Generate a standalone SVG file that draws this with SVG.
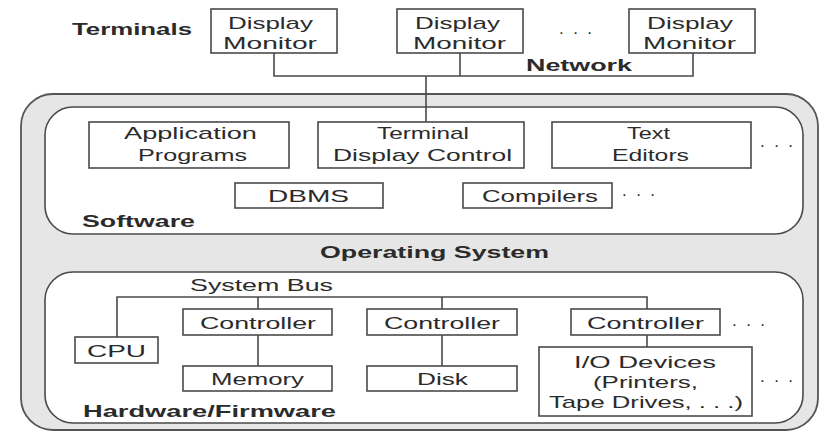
<svg xmlns="http://www.w3.org/2000/svg" width="820" height="432" viewBox="0 0 820 432">
<style>
text{font-family:"Liberation Sans",Arial,sans-serif;fill:#2b2b2b;}
.r{font-size:17px;}
.b{font-size:16.5px;font-weight:bold;}
.box{fill:#fff;stroke:#4a4a4a;stroke-width:1.6;}
.pan{fill:#fff;stroke:#4a4a4a;stroke-width:1.6;}
.os{fill:#e6e6e6;stroke:#555;stroke-width:1.8;}
.ln{fill:none;stroke:#4a4a4a;stroke-width:1.6;}
</style>
<rect width="820" height="432" fill="#fff"/>
<g id="os">
<rect class="os" x="21" y="94" width="797" height="336" rx="32"/>
<text class="b" x="320" y="258" textLength="229" lengthAdjust="spacingAndGlyphs">Operating System</text>
</g>
<g id="software">
<rect class="pan" x="45" y="107" width="758" height="127" rx="28"/>
<text class="b" x="82" y="227" textLength="113" lengthAdjust="spacingAndGlyphs">Software</text>
</g>
<g id="hardware">
<rect class="pan" x="45" y="272" width="758" height="151" rx="28"/>
<text class="b" x="83" y="417" textLength="253" lengthAdjust="spacingAndGlyphs">Hardware/Firmware</text>
</g>
<g id="connectors">
<path class="ln" d="M274,53V76H693V53M460,53V76M426,76V122"/>
<path class="ln" d="M117,337V297H647V309M258,297V309M258,335V366M442,297V309M442,335V366M647,335V347"/>
</g>
<g id="terminals-label"><text class="b" x="72" y="35" textLength="120" lengthAdjust="spacingAndGlyphs">Terminals</text></g>
<g id="network-label"><text class="b" x="526" y="71" textLength="106" lengthAdjust="spacingAndGlyphs">Network</text></g>
<g id="monitor1">
<rect class="box" x="211" y="9" width="126" height="44"/>
<text class="r" x="228" y="28.5" textLength="85" lengthAdjust="spacingAndGlyphs">Display</text>
<text class="r" x="223" y="48.5" textLength="94" lengthAdjust="spacingAndGlyphs">Monitor</text>
</g>
<g id="monitor2">
<rect class="box" x="397" y="9" width="126" height="44"/>
<text class="r" x="415" y="28.5" textLength="85" lengthAdjust="spacingAndGlyphs">Display</text>
<text class="r" x="413" y="48.5" textLength="93" lengthAdjust="spacingAndGlyphs">Monitor</text>
</g>
<g id="monitor3">
<rect class="box" x="629" y="9" width="126" height="44"/>
<text class="r" x="647" y="28.5" textLength="86" lengthAdjust="spacingAndGlyphs">Display</text>
<text class="r" x="643" y="48.5" textLength="93" lengthAdjust="spacingAndGlyphs">Monitor</text>
</g>
<g id="dots-terminals"><text class="r" x="559" y="34" textLength="33" lengthAdjust="spacing">. . .</text></g>
<g id="app-programs">
<rect class="box" x="89" y="122" width="200" height="46"/>
<text class="r" x="124" y="139" textLength="133" lengthAdjust="spacingAndGlyphs">Application</text>
<text class="r" x="138" y="161" textLength="109" lengthAdjust="spacingAndGlyphs">Programs</text>
</g>
<g id="terminal-display-control">
<rect class="box" x="318" y="122" width="206" height="46"/>
<text class="r" x="377" y="139" textLength="92" lengthAdjust="spacingAndGlyphs">Terminal</text>
<text class="r" x="333" y="161" textLength="179" lengthAdjust="spacingAndGlyphs">Display Control</text>
</g>
<g id="text-editors">
<rect class="box" x="552" y="122" width="199" height="46"/>
<text class="r" x="627" y="139" textLength="43" lengthAdjust="spacingAndGlyphs">Text</text>
<text class="r" x="612" y="161" textLength="77" lengthAdjust="spacingAndGlyphs">Editors</text>
</g>
<g id="dots-editors"><text class="r" x="760" y="147" textLength="33" lengthAdjust="spacing">. . .</text></g>
<g id="dbms">
<rect class="box" x="235" y="183" width="148" height="25"/>
<text class="r" x="268" y="202" textLength="81" lengthAdjust="spacingAndGlyphs">DBMS</text>
</g>
<g id="compilers">
<rect class="box" x="463" y="183" width="149" height="25"/>
<text class="r" x="482" y="202" textLength="116" lengthAdjust="spacingAndGlyphs">Compilers</text>
</g>
<g id="dots-compilers"><text class="r" x="622" y="196" textLength="33" lengthAdjust="spacing">. . .</text></g>
<g id="system-bus-label"><text class="r" x="190" y="291" textLength="143" lengthAdjust="spacingAndGlyphs">System Bus</text></g>
<g id="cpu">
<rect class="box" x="75" y="337" width="83" height="26"/>
<text class="r" x="87" y="357" textLength="59" lengthAdjust="spacingAndGlyphs">CPU</text>
</g>
<g id="controller1">
<rect class="box" x="183" y="309" width="149" height="26"/>
<text class="r" x="200" y="329" textLength="116" lengthAdjust="spacingAndGlyphs">Controller</text>
</g>
<g id="controller2">
<rect class="box" x="367" y="309" width="150" height="26"/>
<text class="r" x="384" y="329" textLength="116" lengthAdjust="spacingAndGlyphs">Controller</text>
</g>
<g id="controller3">
<rect class="box" x="571" y="309" width="149" height="26"/>
<text class="r" x="587" y="329" textLength="117" lengthAdjust="spacingAndGlyphs">Controller</text>
</g>
<g id="dots-controller"><text class="r" x="732" y="326" textLength="33" lengthAdjust="spacing">. . .</text></g>
<g id="memory">
<rect class="box" x="183" y="366" width="149" height="25"/>
<text class="r" x="211" y="385" textLength="93" lengthAdjust="spacingAndGlyphs">Memory</text>
</g>
<g id="disk">
<rect class="box" x="367" y="366" width="150" height="25"/>
<text class="r" x="417" y="385" textLength="51" lengthAdjust="spacingAndGlyphs">Disk</text>
</g>
<g id="io-devices">
<rect class="box" x="539" y="347" width="213" height="69"/>
<text class="r" x="574" y="368" textLength="142" lengthAdjust="spacingAndGlyphs">I/O Devices</text>
<text class="r" x="593" y="388" textLength="105" lengthAdjust="spacingAndGlyphs">(Printers,</text>
<text class="r" x="549" y="408" textLength="194" lengthAdjust="spacingAndGlyphs">Tape Drives, . . .)</text>
</g>
<g id="dots-io"><text class="r" x="760" y="382" textLength="33" lengthAdjust="spacing">. . .</text></g>
</svg>
